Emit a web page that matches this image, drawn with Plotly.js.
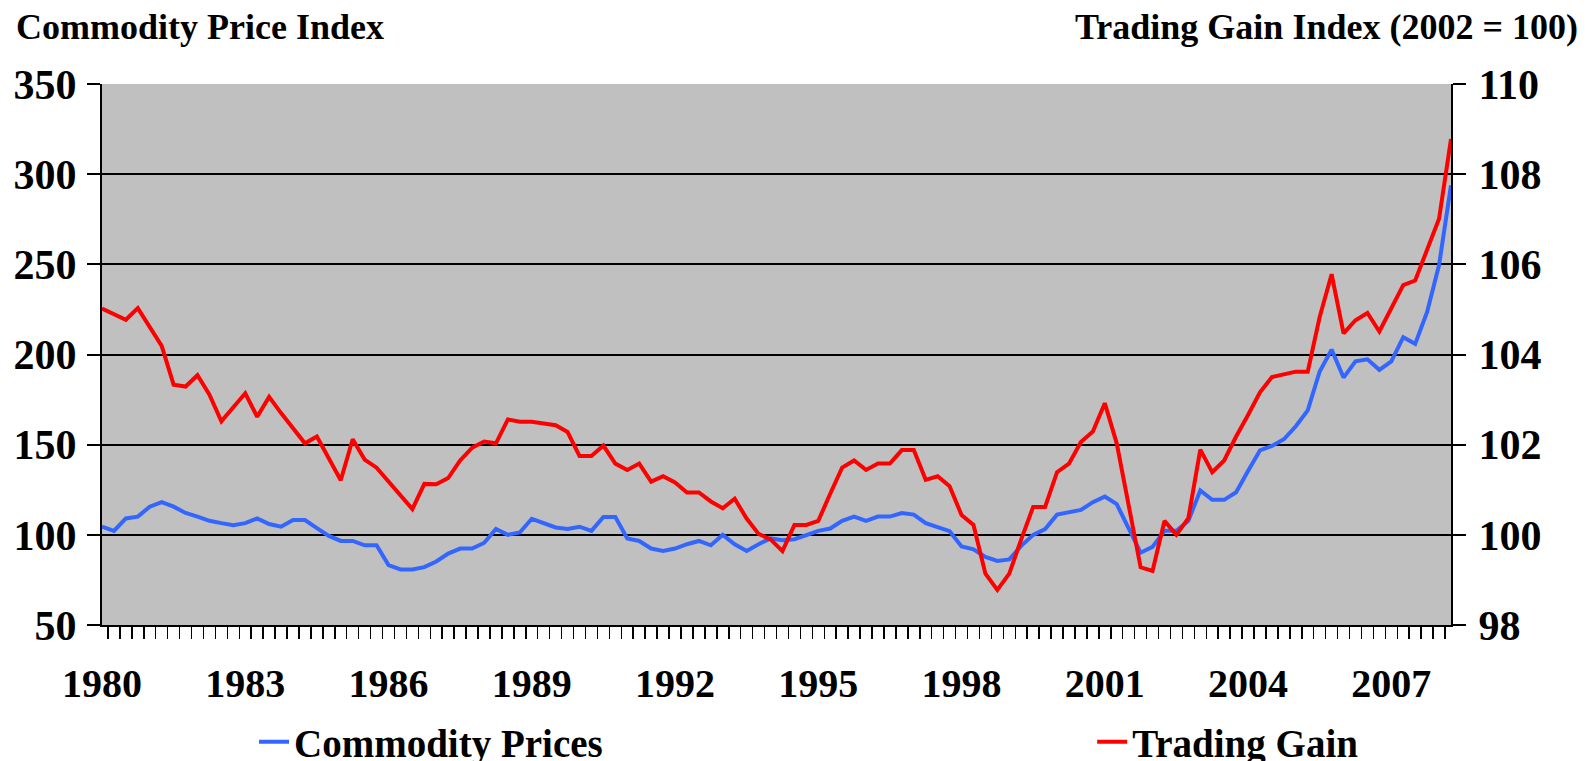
<!DOCTYPE html>
<html>
<head>
<meta charset="utf-8">
<script src="https://cdn.plot.ly/plotly-3.0.1.min.js"></script>
<style>
  html, body { margin: 0; padding: 0; background: #ffffff; }
  #chart { width: 1588px; height: 761px; }
</style>
</head>
<body>
<div id="chart"></div>
<script>
// Quarterly data, 1980 Q1 - 2008 Q2
const seriesNames = ["Commodity Prices", "Trading Gain"];

// Commodity Price Index (left axis)
const commodityPrices = [
  104.5, 102.2, 109.1, 110.1,   // 1980
  115.6, 118.1, 115.6, 112.1,   // 1981
  110.1, 107.8, 106.5, 105.4,   // 1982
  106.5, 109.1, 106.0, 104.5,   // 1983
  108.2, 108.2, 103.7, 99.4,    // 1984
  96.6, 96.6, 94.2, 94.2,       // 1985
  83.2, 80.8, 80.8, 82.1,       // 1986
  85.2, 89.6, 92.4, 92.4,       // 1987
  95.5, 103.2, 100.0, 101.3,    // 1988
  108.9, 106.5, 104.1, 103.2,   // 1989
  104.5, 102.2, 109.9, 109.9,   // 1990
  98.0, 96.6, 92.4, 91.1,       // 1991
  92.4, 94.8, 96.6, 94.2,       // 1992
  100.0, 94.8, 91.1, 94.8,      // 1993
  98.0, 97.0, 97.6, 99.8,       // 1994
  102.2, 103.5, 107.8, 110.1,   // 1995
  107.8, 110.1, 110.1, 112.1,   // 1996
  111.2, 106.5, 104.1, 102.0,   // 1997
  93.5, 92.0, 87.7, 85.5,       // 1998
  86.4, 93.9, 100.0, 103.2,     // 1999
  111.2, 112.5, 113.8, 118.1,   // 2000
  121.2, 117.0, 103.7, 90.1,    // 2001
  93.3, 102.2, 102.2, 107.8,    // 2002
  124.6, 119.4, 119.4, 123.6,   // 2003
  135.4, 146.9, 149.3, 153.0,   // 2004
  160.2, 169.0, 190.6, 202.7,   // 2005
  187.2, 196.2, 197.3, 191.5,   // 2006
  196.2, 209.6, 205.9, 223.6,   // 2007
  249.6, 293.8                  // 2008
];

// Trading Gain Index, 2002 = 100 (right axis)
const tradingGain = [
  105.02, 104.89, 104.77, 105.03,   // 1980
  104.60, 104.19, 103.33, 103.29,   // 1981
  103.54, 103.11, 102.52, 102.82,   // 1982
  103.14, 102.62, 103.06, 102.70,   // 1983
  102.36, 102.03, 102.18, 101.70,   // 1984
  101.21, 102.12, 101.67, 101.49,   // 1985
  101.18, 100.88, 100.57, 101.13,   // 1986
  101.12, 101.26, 101.65, 101.93,   // 1987
  102.07, 102.03, 102.56, 102.51,   // 1988
  102.51, 102.47, 102.43, 102.28,   // 1989
  101.75, 101.75, 101.98, 101.58,   // 1990
  101.44, 101.58, 101.18, 101.30,   // 1991
  101.16, 100.94, 100.94, 100.74,   // 1992
  100.59, 100.80, 100.36, 100.02,   // 1993
  99.90, 99.64, 100.22, 100.22,     // 1994
  100.31, 100.91, 101.49, 101.65,   // 1995
  101.44, 101.58, 101.58, 101.88,   // 1996
  101.88, 101.22, 101.30, 101.08,   // 1997
  100.44, 100.22, 99.14, 98.78,     // 1998
  99.14, 99.90, 100.62, 100.62,     // 1999
  101.39, 101.58, 102.06, 102.29,   // 2000
  102.92, 102.03, 100.62, 99.28,    // 2001
  99.20, 100.31, 100.00, 100.37,    // 2002
  101.89, 101.39, 101.65, 102.18,   // 2003
  102.66, 103.16, 103.50, 103.56,   // 2004
  103.62, 103.62, 104.83, 105.78,   // 2005
  104.47, 104.76, 104.92, 104.51,   // 2006
  105.02, 105.54, 105.64, 106.32,   // 2007
  107.01, 108.78                    // 2008
];

// Year labels shown on the category axis
const yearLabels = ["1980", "1983", "1986", "1989", "1992", "1995", "1998", "2001", "2004", "2007"];

// Quarter categories
const quarters = [];
for (let y = 1980; y <= 2008; y++) {
  for (let q = 1; q <= 4; q++) {
    if (quarters.length < commodityPrices.length) quarters.push(y + " Q" + q);
  }
}
const tickText = quarters.map(function (c) {
  const yr = c.slice(0, 4);
  return (c.endsWith("Q1") && yearLabels.indexOf(yr) >= 0) ? yr : "";
});

const FONT = "Liberation Serif, Times New Roman, serif";
const BLUE = "#3366ff";
const RED = "#ff0000";

const traces = [
  {
    x: quarters, y: commodityPrices, name: seriesNames[0],
    type: "scatter", mode: "lines", yaxis: "y", legend: "legend",
    line: { color: BLUE, width: 4 }
  },
  {
    x: quarters, y: tradingGain, name: seriesNames[1],
    type: "scatter", mode: "lines", yaxis: "y2", legend: "legend2",
    line: { color: RED, width: 4 }
  }
];

const legendFont = { family: FONT, size: 39, color: "#000000", weight: 700 };
const LEGEND_Y = -0.216;

const layout = {
  width: 1588, height: 761,
  margin: { l: 102, r: 137, t: 84, b: 136, autoexpand: false },
  paper_bgcolor: "#ffffff",
  plot_bgcolor: "#c0c0c0",
  font: { family: FONT, color: "#000000", size: 40, weight: 700 },
  showlegend: true,
  legend: {
    orientation: "h",
    x: 0.1127, xanchor: "left",
    y: LEGEND_Y, yanchor: "middle",
    bgcolor: "rgba(0,0,0,0)",
    font: legendFont
  },
  legend2: {
    orientation: "h",
    x: 0.734, xanchor: "left",
    y: LEGEND_Y, yanchor: "middle",
    bgcolor: "rgba(0,0,0,0)",
    font: legendFont
  },
  xaxis: {
    type: "category",
    tickmode: "array",
    tickvals: quarters,
    ticktext: tickText,
    tickson: "boundaries",
    ticks: "outside", ticklen: 12, tickwidth: 1.5, tickcolor: "#000000",
    tickangle: 0,
    ticklabelstandoff: 22,
    tickfont: { family: FONT, size: 40, color: "#000000", weight: 700 },
    showgrid: false, zeroline: false,
    showline: true, linecolor: "#000000", linewidth: 2
  },
  yaxis: {
    range: [50, 350], dtick: 50, tick0: 50,
    ticks: "outside", ticklen: 13, tickwidth: 2, tickcolor: "#000000",
    ticklabelstandoff: 2,
    tickfont: { family: FONT, size: 42, color: "#000000", weight: 700 },
    showgrid: true, gridcolor: "#000000", gridwidth: 2,
    zeroline: false,
    showline: true, linecolor: "#000000", linewidth: 2
  },
  yaxis2: {
    overlaying: "y", side: "right",
    range: [98, 110], dtick: 2, tick0: 98,
    ticks: "outside", ticklen: 13, tickwidth: 2, tickcolor: "#000000",
    ticklabelstandoff: 4,
    tickfont: { family: FONT, size: 42, color: "#000000", weight: 700 },
    showgrid: false, zeroline: false,
    showline: true, linecolor: "#000000", linewidth: 2
  },
  annotations: [
    {
      text: "Commodity Price Index",
      xref: "paper", yref: "paper",
      x: -0.0653, y: 1.105, xanchor: "left", yanchor: "middle",
      showarrow: false,
      font: { family: FONT, size: 36, color: "#000000", weight: 700 }
    },
    {
      text: "Trading Gain Index (2002 = 100)",
      xref: "paper", yref: "paper",
      x: 1.0956, y: 1.105, xanchor: "right", yanchor: "middle",
      showarrow: false,
      font: { family: FONT, size: 36, color: "#000000", weight: 700 }
    }
  ]
};

Plotly.newPlot("chart", traces, layout, { displayModeBar: false, staticPlot: true });
</script>
</body>
</html>
